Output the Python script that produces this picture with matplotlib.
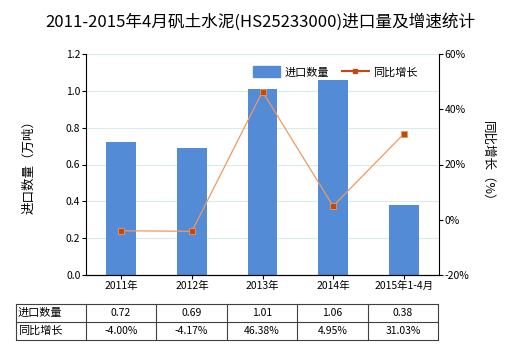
import matplotlib
matplotlib.use("Agg")
import matplotlib.pyplot as plt
from matplotlib.lines import Line2D
import numpy as np

plt.rcParams['font.family'] = ['Noto Sans CJK SC', 'DejaVu Sans']

categories = ["2011年", "2012年", "2013年", "2014年", "2015年1-4月"]
qty = [0.72, 0.69, 1.01, 1.06, 0.38]
growth = [-4.00, -4.17, 46.38, 4.95, 31.03]
qty_labels = ["0.72", "0.69", "1.01", "1.06", "0.38"]
growth_labels = ["-4.00%", "-4.17%", "46.38%", "4.95%", "31.03%"]

BAR = "#548BD6"
LINE = "#EC9A62"
MARK = "#C4480F"
W, H = 520, 350

fig = plt.figure(figsize=(5.2, 3.5), dpi=100)
ax = fig.add_axes([86 / W, 1 - 275 / H, (439 - 86) / W, (275 - 54) / H])
x = np.arange(len(categories))
ax.bar(x, qty, width=0.42, color=BAR, zorder=2)
ax.set_xlim(-0.5, len(categories) - 0.5)
ax.set_ylim(0, 1.2)
ax.set_yticks(np.arange(0, 1.21, 0.2))
ax.set_yticklabels([f"{v:.1f}" for v in np.arange(0, 1.21, 0.2)])
ax.set_xticks(x)
ax.set_xticklabels(categories)
ax.grid(axis="y", color="#D8ECEA", linewidth=0.8, zorder=0)
ax.set_ylabel("进口数量（万吨）", fontsize=9, labelpad=22)
for s in ["top", "right"]:
    ax.spines[s].set_visible(False)
ax.tick_params(labelsize=7.5, length=3, pad=1)

ax2 = ax.twinx()
ax2.plot(x, growth, color=LINE, linewidth=0.9, zorder=3)
ax2.plot(x, growth, linestyle="none", marker="s", markersize=4.5,
         markerfacecolor=MARK, markeredgecolor="#E89A60", markeredgewidth=0.6, zorder=4)
ax2.set_ylim(-20, 60)
ax2.set_yticks([-20, 0, 20, 40, 60])
ax2.set_yticklabels(["-20%", "0%", "20%", "40%", "60%"])
ax2.tick_params(labelsize=7.5, length=3, pad=1)
for s in ["top", "left"]:
    ax2.spines[s].set_visible(False)
ax2.set_ylabel("同比增长（%）", fontsize=9, rotation=-90, labelpad=18)

h1 = plt.Rectangle((0, 0), 1, 1, color=BAR)
h2 = Line2D([0], [0], color=MARK, linewidth=1.5, marker="s", markersize=3,
            markerfacecolor=MARK)
ax2.legend([h1, h2], ["进口数量", "同比增长"], loc="center left", ncol=2,
           frameon=False, fontsize=8, bbox_to_anchor=((253 - 86) / (439 - 86), (275 - 72) / (275 - 54)),
           handlelength=2.4, handleheight=1.1, columnspacing=1.2, handletextpad=0.4,
           borderaxespad=0, borderpad=0)

fig.text(0.5, 1 - 22 / H, "2011-2015年4月矾土水泥(HS25233000)进口量及增速统计",
         ha="center", va="center", fontsize=12)

# data table under the chart
xs = [16, 86, 156, 227, 297, 368, 438]
ys = [304, 322, 340]
for yy in ys:
    fig.add_artist(Line2D([xs[0] / W, xs[-1] / W], [1 - yy / H, 1 - yy / H],
                          color="#404040", linewidth=0.8))
for xx in xs:
    fig.add_artist(Line2D([xx / W, xx / W], [1 - ys[0] / H, 1 - ys[-1] / H],
                          color="#404040", linewidth=0.8))
rows = [("进口数量", qty_labels), ("同比增长", growth_labels)]
for r, (name, vals) in enumerate(rows):
    yc = 1 - (ys[r] + ys[r + 1]) / 2 / H
    fig.text((xs[0] + 2) / W, yc, name, ha="left", va="center", fontsize=8)
    for c, v in enumerate(vals):
        fig.text((xs[c + 1] + xs[c + 2]) / 2 / W, yc, v, ha="center", va="center", fontsize=7.5)

fig.savefig("out.png", dpi=100)
